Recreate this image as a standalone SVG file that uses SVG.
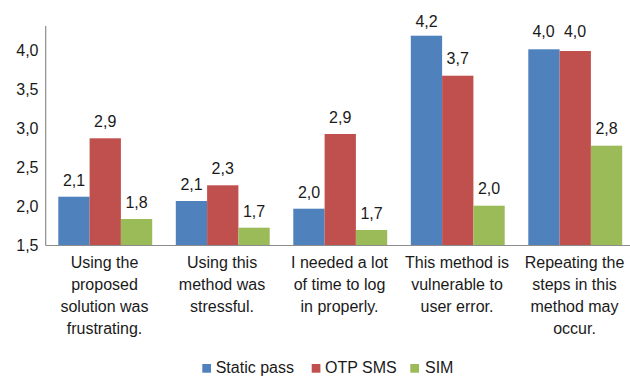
<svg xmlns="http://www.w3.org/2000/svg" width="630" height="377" viewBox="0 0 630 377">
<style>
text{font-family:"Liberation Sans",Arial,sans-serif;font-size:16px;fill:#1a1a1a}
.v{text-anchor:middle}
.t{text-anchor:end}
.c{text-anchor:middle}
.b{fill:#4F81BD}
.r{fill:#C0504D}
.g{fill:#9BBB59}
.ax{stroke:#8c8c8c;stroke-width:1.2;fill:none}
</style>
<rect width="630" height="377" fill="#fff"/>
<g id="yaxis">
<line class="ax" x1="45.7" y1="26" x2="45.7" y2="245.5"/>
<text class="t" x="38.5" y="55.5">4,0</text>
<text class="t" x="38.5" y="94.5">3,5</text>
<text class="t" x="38.5" y="133.5">3,0</text>
<text class="t" x="38.5" y="172.5">2,5</text>
<text class="t" x="38.5" y="211.5">2,0</text>
<text class="t" x="38.5" y="250.5">1,5</text>
</g>
<g id="group1">
<rect class="b" x="58.3" y="196.7" width="31.3" height="48.3"/>
<rect class="r" x="89.6" y="138.3" width="31.3" height="106.7"/>
<rect class="g" x="120.9" y="219" width="31.3" height="26"/>
<text class="v" x="74" y="186">2,1</text>
<text class="v" x="105.2" y="127">2,9</text>
<text class="v" x="136.5" y="208">1,8</text>
<text class="c" x="104.5" y="268">Using the</text>
<text class="c" x="104.5" y="290">proposed</text>
<text class="c" x="104.5" y="312">solution was</text>
<text class="c" x="104.5" y="334">frustrating.</text>
</g>
<g id="group2">
<rect class="b" x="175.8" y="201" width="31.3" height="44"/>
<rect class="r" x="207.1" y="185.3" width="31.3" height="59.7"/>
<rect class="g" x="238.4" y="227.7" width="31.3" height="17.3"/>
<text class="v" x="191.5" y="190">2,1</text>
<text class="v" x="222.7" y="174">2,3</text>
<text class="v" x="254" y="216.5">1,7</text>
<text class="c" x="222" y="268">Using this</text>
<text class="c" x="222" y="290">method was</text>
<text class="c" x="222" y="312">stressful.</text>
</g>
<g id="group3">
<rect class="b" x="293.3" y="208.7" width="31.3" height="36.3"/>
<rect class="r" x="324.6" y="134" width="31.3" height="111"/>
<rect class="g" x="355.9" y="230" width="31.3" height="15"/>
<text class="v" x="309" y="198">2,0</text>
<text class="v" x="340.2" y="123">2,9</text>
<text class="v" x="371.5" y="219">1,7</text>
<text class="c" x="339.5" y="268">I needed a lot</text>
<text class="c" x="339.5" y="290">of time to log</text>
<text class="c" x="339.5" y="312">in properly.</text>
</g>
<g id="group4">
<rect class="b" x="410.8" y="35.7" width="31.3" height="209.3"/>
<rect class="r" x="442.1" y="75.7" width="31.3" height="169.3"/>
<rect class="g" x="473.4" y="205.7" width="31.3" height="39.3"/>
<text class="v" x="426.5" y="26.5">4,2</text>
<text class="v" x="457.7" y="64">3,7</text>
<text class="v" x="489" y="194">2,0</text>
<text class="c" x="457" y="268">This method is</text>
<text class="c" x="457" y="290">vulnerable to</text>
<text class="c" x="457" y="312">user error.</text>
</g>
<g id="group5">
<rect class="b" x="528.3" y="49.3" width="31.3" height="195.7"/>
<rect class="r" x="559.6" y="51" width="31.3" height="194"/>
<rect class="g" x="590.9" y="145.7" width="31.3" height="99.3"/>
<text class="v" x="543.5" y="37">4,0</text>
<text class="v" x="575" y="37">4,0</text>
<text class="v" x="606.5" y="134">2,8</text>
<text class="c" x="574.5" y="268">Repeating the</text>
<text class="c" x="574.5" y="290">steps in this</text>
<text class="c" x="574.5" y="312">method may</text>
<text class="c" x="574.5" y="334">occur.</text>
</g>
<g id="connectors">
<line class="ax" x1="45.7" y1="245.5" x2="630" y2="245.5"/>
</g>
<g id="legend">
<rect class="b" x="202.3" y="364" width="8.7" height="8.7"/>
<text x="215.7" y="373">Static pass</text>
<rect class="r" x="311.7" y="364" width="8.7" height="8.7"/>
<text x="325" y="373">OTP SMS</text>
<rect class="g" x="410.3" y="364" width="8.7" height="8.7"/>
<text x="425" y="373">SIM</text>
</g>
</svg>
